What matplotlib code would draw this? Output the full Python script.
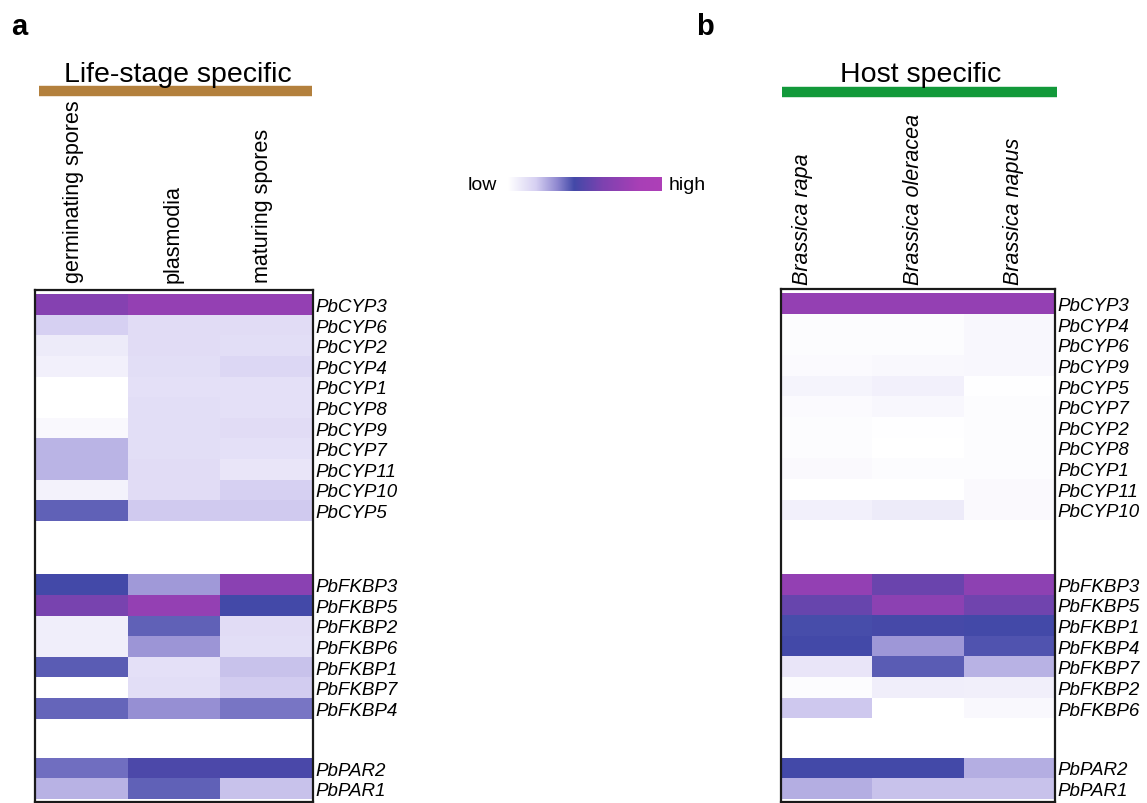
import numpy as np
import matplotlib
matplotlib.use('Agg')
import matplotlib.pyplot as plt
from matplotlib.colors import LinearSegmentedColormap

plt.rcParams['font.family'] = ['Liberation Sans', 'DejaVu Sans']

W, H = 1147, 804

# ---- datos ----
stage_cols = ['germinating spores', 'plasmodia', 'maturing spores']
host_cols = ['Brassica rapa', 'Brassica oleracea', 'Brassica napus']

stage_cyp_genes = ['PbCYP3', 'PbCYP6', 'PbCYP2', 'PbCYP4', 'PbCYP1', 'PbCYP8',
                   'PbCYP9', 'PbCYP7', 'PbCYP11', 'PbCYP10', 'PbCYP5']
stage_cyp = [[0.66, 0.74, 0.74],
             [0.18, 0.136, 0.136],
             [0.08, 0.136, 0.127],
             [0.06, 0.127, 0.154],
             [0.0, 0.12, 0.12],
             [0.0, 0.127, 0.12],
             [0.03, 0.127, 0.136],
             [0.235, 0.127, 0.12],
             [0.235, 0.136, 0.10],
             [0.053, 0.136, 0.18],
             [0.39, 0.194, 0.194]]
stage_fkbp_genes = ['PbFKBP3', 'PbFKBP5', 'PbFKBP2', 'PbFKBP6', 'PbFKBP1',
                    'PbFKBP7', 'PbFKBP4']
stage_fkbp = [[0.43, 0.286, 0.686],
              [0.60, 0.74, 0.43],
              [0.07, 0.39, 0.136],
              [0.07, 0.296, 0.127],
              [0.395, 0.12, 0.208],
              [0.0, 0.127, 0.19],
              [0.381, 0.306, 0.355]]
stage_par_genes = ['PbPAR2', 'PbPAR1']
stage_par = [[0.364, 0.46, 0.45],
             [0.24, 0.39, 0.208]]

host_cyp_genes = ['PbCYP3', 'PbCYP4', 'PbCYP6', 'PbCYP9', 'PbCYP5', 'PbCYP7',
                  'PbCYP2', 'PbCYP8', 'PbCYP1', 'PbCYP11', 'PbCYP10']
host_cyp = [[0.74, 0.74, 0.74],
            [0.013, 0.013, 0.035],
            [0.013, 0.013, 0.035],
            [0.02, 0.03, 0.035],
            [0.044, 0.06, 0.005],
            [0.02, 0.035, 0.013],
            [0.013, 0.005, 0.013],
            [0.013, 0.0, 0.013],
            [0.025, 0.013, 0.013],
            [0.0, 0.0, 0.025],
            [0.06, 0.08, 0.025]]
host_fkbp_genes = ['PbFKBP3', 'PbFKBP5', 'PbFKBP1', 'PbFKBP4', 'PbFKBP7',
                   'PbFKBP2', 'PbFKBP6']
host_fkbp = [[0.735, 0.555, 0.70],
             [0.546, 0.697, 0.578],
             [0.425, 0.44, 0.43],
             [0.43, 0.29, 0.412],
             [0.10, 0.395, 0.24],
             [0.013, 0.07, 0.065],
             [0.198, 0.0, 0.03]]
host_par_genes = ['PbPAR2', 'PbPAR1']
host_par = [[0.43, 0.43, 0.247],
            [0.247, 0.21, 0.21]]

cmap = LinearSegmentedColormap.from_list('lowhigh', [
    (0.0, '#ffffff'), (0.18, '#d6d0f2'), (0.32, '#8f88d0'),
    (0.43, '#4349a8'), (0.62, '#7e42b0'), (0.85, '#a83fb6'), (1.0, '#ae40b8')])


def draw_heatmap(ax, blocks, col_names, col_x, head_pad, col_style):
    ticks, labels = [], []
    for offset, genes, vals in blocks:
        vals = np.array(vals)
        y_edges = offset + np.arange(len(genes) + 1)
        ax.pcolormesh(np.arange(4), y_edges, vals, cmap=cmap, vmin=0, vmax=1,
                      shading='flat')
        ticks += list(offset + np.arange(len(genes)) + 0.5)
        labels += genes
    ax.set_xlim(0, 3)
    ax.set_ylim(24.65, -0.2)
    ax.set_xticks([])
    ax.yaxis.tick_right()
    ax.set_yticks(ticks)
    ax.set_yticklabels(labels, style='italic', fontsize=13.5)
    ax.tick_params(axis='y', length=0, pad=2)
    for s in ax.spines.values():
        s.set_linewidth(1.6)
        s.set_color('#1a1a1a')
    for x, name in zip(col_x, col_names):
        ax.text(x, 1 + head_pad, name, transform=ax.get_xaxis_transform(),
                rotation=90, ha='center', va='bottom', fontsize=15.5,
                style=col_style)


fig = plt.figure(figsize=(W / 100, H / 100), dpi=100)

ax_a = fig.add_axes([35 / W, 1 - 803 / H, 278 / W, 512 / H])
draw_heatmap(ax_a,
             [(0, stage_cyp_genes, stage_cyp),
              (13.6, stage_fkbp_genes, stage_fkbp),
              (22.5, stage_par_genes, stage_par)],
             stage_cols, [0.42, 1.49, 2.46], 8 / 512, 'normal')

ax_b = fig.add_axes([781 / W, 1 - 803 / H, 274 / W, 513 / H])
draw_heatmap(ax_b,
             [(0, host_cyp_genes, host_cyp),
              (13.6, host_fkbp_genes, host_fkbp),
              (22.5, host_par_genes, host_par)],
             host_cols, [0.24, 1.45, 2.55], 5 / 513, 'italic')

# barra de color
cax = fig.add_axes([508 / W, 1 - 192 / H, 153 / W, 14 / H])
cax.imshow(np.linspace(0, 1, 256)[None, :], aspect='auto', cmap=cmap)
cax.axis('off')
fig.text(497 / W, 1 - 186 / H, 'low', ha='right', va='center', fontsize=14)
fig.text(669 / W, 1 - 186 / H, 'high', ha='left', va='center', fontsize=14)

# titulos de grupo y barras
fig.text(178 / W, 1 - 82 / H, 'Life-stage specific', ha='center',
         va='baseline', fontsize=20.5)
fig.add_artist(plt.Line2D([39 / W, 312 / W], [1 - 92 / H] * 2, lw=7.5,
                          color='#b3803d', solid_capstyle='butt'))
fig.text(921 / W, 1 - 82 / H, 'Host specific', ha='center',
         va='baseline', fontsize=20.5)
fig.add_artist(plt.Line2D([782 / W, 1057 / W], [1 - 93 / H] * 2, lw=7.5,
                          color='#12993a', solid_capstyle='butt'))

fig.text(11 / W, 1 - 35 / H, 'a', fontsize=21, fontweight='bold',
         va='baseline')
fig.text(696 / W, 1 - 35 / H, 'b', fontsize=21, fontweight='bold',
         va='baseline')

fig.savefig('out.png', dpi=100)
